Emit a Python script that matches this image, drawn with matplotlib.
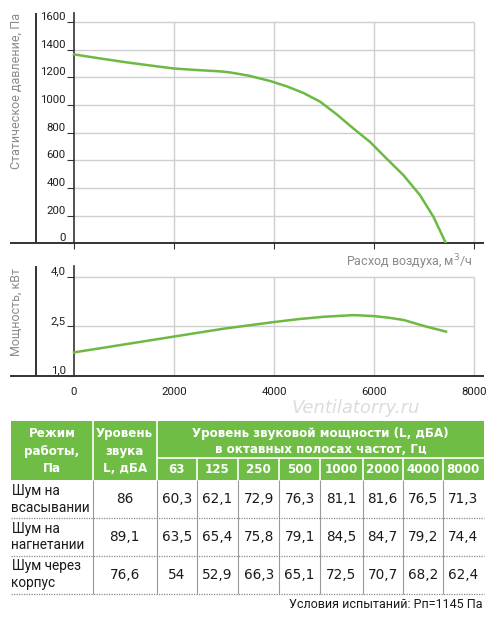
import matplotlib
matplotlib.use("Agg")
import matplotlib.pyplot as plt

plt.rcParams['font.family'] = ['Roboto', 'DejaVu Sans']

# ---------------- data ----------------
flow_p = [0, 500, 1000, 1500, 2000, 2500, 2900, 3120, 3500, 3920, 4250, 4590, 4920,
          5250, 5590, 5920, 6250, 6590, 6920, 7190, 7440]
pressure = [1366, 1338, 1311, 1287, 1264, 1252, 1244, 1236, 1212, 1174, 1136, 1087, 1025,
            934, 830, 734, 614, 493, 349, 192, 0]

flow_w = [0, 1000, 2000, 3000, 4000, 4500, 5000, 5600, 6000, 6300, 6600, 7000, 7440]
power = [1.70, 1.94, 2.18, 2.42, 2.62, 2.71, 2.78, 2.83, 2.80, 2.75, 2.68, 2.50, 2.33]

x_ticks = [0, 2000, 4000, 6000, 8000]
p_ticks = [0, 200, 400, 600, 800, 1000, 1200, 1400, 1600]
w_ticks = [1.0, 2.5, 4.0]
w_tick_labels = ["1,0", "2,5", "4,0"]

freqs = ["63", "125", "250", "500", "1000", "2000", "4000", "8000"]
row_labels = ["Шум на\nвсасывании", "Шум на\nнагнетании", "Шум через\nкорпус"]
total_level = ["86", "89,1", "76,6"]
band_levels = [
    ["60,3", "62,1", "72,9", "76,3", "81,1", "81,6", "76,5", "71,3"],
    ["63,5", "65,4", "75,8", "79,1", "84,5", "84,7", "79,2", "74,4"],
    ["54", "52,9", "66,3", "65,1", "72,5", "70,7", "68,2", "62,4"],
]

GREEN = "#6cb944"
HEAD_GREEN = "#70bd46"
GRID = "#cfcfcf"
AXC = "#333333"
LABC = "#8a8a8a"
TICKF = ['Roboto', 'DejaVu Sans']
TABF = ['DejaVu Sans']

W, H = 500, 617
fig = plt.figure(figsize=(W / 100, H / 100), dpi=100)

def px_axes(x0, y0, x1, y1):
    return fig.add_axes([x0 / W, 1 - y1 / H, (x1 - x0) / W, (y1 - y0) / H])

XMIN, XMAX = -1260, 8180

def setup(ax, yticks, ylabels, ymin, ymax_grid, ymax):
    ax.set_xlim(XMIN, XMAX)
    ax.set_ylim(ymin, ymax)
    for s in ['top', 'right']:
        ax.spines[s].set_visible(False)
    ax.spines['left'].set_position(('data', 0))
    ax.spines['left'].set_color(AXC)
    ax.spines['left'].set_linewidth(1.2)
    ax.spines['bottom'].set_color(AXC)
    ax.spines['bottom'].set_linewidth(1.4)
    ax.set_yticks(yticks)
    ax.set_yticklabels(ylabels, fontsize=8.2, family=TICKF, color="#1e1e1e")
    for lab in ax.get_yticklabels():
        lab.set_va('bottom')
    ax.tick_params(axis='y', length=5, width=0.8, color=AXC, pad=1)
    ax.hlines(yticks[1:], 0, 8000, color=GRID, lw=1, zorder=0)
    ax.vlines(x_ticks[1:], ymin, ymax_grid, color=GRID, lw=1, zorder=0)
    ax.axvline(-760, color=AXC, lw=1.4)
    ax.set_xticks(x_ticks)
    ax.patch.set_alpha(0)

# --- top chart: static pressure
ax1 = px_axes(11, 13, 483, 243.5)
setup(ax1, p_ticks, [str(v) for v in p_ticks], 0, 1600, 1600 * 230.5 / 221.5)
ax1.tick_params(axis='x', length=4, width=0.8, color=AXC, labelbottom=False)
ax1.plot(flow_p, pressure, color=GREEN, lw=1.8, zorder=3, solid_joinstyle='round')
fig.text(16 / W, 1 - 13 / H, "Статическое давление, Па", rotation=90, ha='center', va='top',
         fontsize=9, color=LABC)
fig.text(472 / W, 1 - 262 / H, "Расход воздуха, м$^3$/ч", ha='right', va='center',
         fontsize=9, color=LABC)

# --- bottom chart: power
ax2 = px_axes(11, 265.7, 483, 375.5)
setup(ax2, w_ticks, w_tick_labels, 1.0, 4.0, 1.0 + (375.5 - 265.7) / 33.0)
ax2.set_xticklabels([str(v) for v in x_ticks], fontsize=8.2, family=TICKF, color="#1e1e1e")
ax2.tick_params(axis='x', length=0, pad=8)
ax2.plot(flow_w, power, color=GREEN, lw=1.8, zorder=3, solid_joinstyle='round')
fig.text(16 / W, 1 - 312 / H, "Мощность, кВт", rotation=90, ha='center', va='center',
         fontsize=9, color=LABC)

# watermark
fig.text(356 / W, 1 - 408 / H, "Ventilatorry.ru", ha='center', va='center', fontsize=13,
         color="#dcdcdc", style='italic', family=['DejaVu Sans'], zorder=0)

# --- table
axt = px_axes(0, 410, 500, 617)
axt.set_xlim(0, W)
axt.set_ylim(617, 410)
axt.axis('off')

x_left, x_right = 11, 484
col_edges = [x_left, 92.7, 156.7, 196.7, 238, 279.3, 320, 362.7, 402.7, 442.7, x_right]
y_head0, y_sub, y_head1 = 420.7, 458.3, 480
row_edges = [480, 518.3, 555.7, 594]

axt.add_patch(plt.Rectangle((x_left, y_head0), x_right - x_left, y_head1 - y_head0,
                            color=HEAD_GREEN, lw=0))
axt.vlines(col_edges[1:3], y_head0, y_head1, color='white', lw=1.2)
axt.vlines(col_edges[3:-1], y_sub, y_head1, color='white', lw=1.2)
axt.hlines(y_sub, col_edges[2], x_right, color='white', lw=1.2)

hkw = dict(ha='center', va='center', color='white', fontweight='bold', fontsize=8.6,
           family=TABF)
axt.text((col_edges[0] + col_edges[1]) / 2, 451.5, "Режим\nработы,\nПа", linespacing=1.45, **hkw)
axt.text((col_edges[1] + col_edges[2]) / 2, 451.5, "Уровень\nзвука\nL, дБА", linespacing=1.45, **hkw)
axt.text((col_edges[2] + x_right) / 2, 441.5,
         "Уровень звуковой мощности (L, дБА)\nв октавных полосах частот, Гц",
         linespacing=1.35, **hkw)
for i, f in enumerate(freqs):
    axt.text((col_edges[2 + i] + col_edges[3 + i]) / 2, 469.5, f, **hkw)

axt.vlines(col_edges[1:-1], row_edges[0], row_edges[-1], color="#9a9a9a", lw=0.8)
axt.hlines(row_edges[1:], x_left, x_right, color="#8a8a8a", lw=0.9, linestyles=(0, (1, 1)))

dkw = dict(va='center', color="#1a1a1a")
for r in range(3):
    yc = (row_edges[r] + row_edges[r + 1]) / 2
    axt.text(x_left + 0.5, yc, row_labels[r], ha='left', linespacing=1.25, fontsize=9.8,
             family=['Roboto', 'DejaVu Sans'], **dkw)
    axt.text((col_edges[1] + col_edges[2]) / 2, yc, total_level[r], ha='center',
             fontsize=9.8, family=TABF, **dkw)
    for i, v in enumerate(band_levels[r]):
        axt.text((col_edges[2 + i] + col_edges[3 + i]) / 2, yc, v, ha='center',
                 fontsize=9.8, family=TABF, **dkw)

axt.text(482.5, 605, "Условия испытаний: Рп=1145 Па", ha='right', va='center',
         fontsize=9, color="#1a1a1a")

fig.savefig("out.png", dpi=100)
